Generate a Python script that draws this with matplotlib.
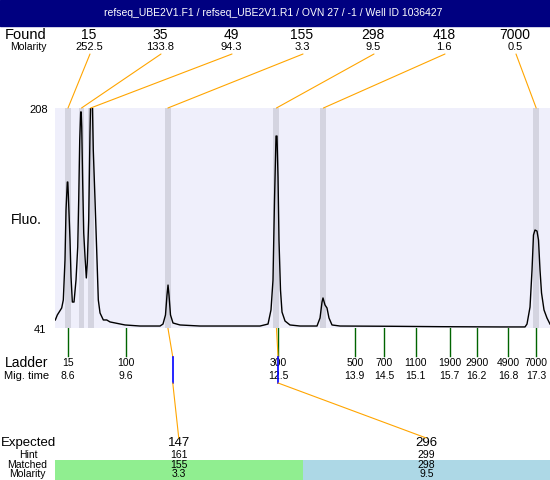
import matplotlib.pyplot as plt
from matplotlib.patches import Rectangle, ConnectionPatch
from matplotlib.transforms import blended_transform_factory

plt.rcParams['font.family'] = ['Liberation Sans', 'DejaVu Sans']

title = "refseq_UBE2V1.F1 / refseq_UBE2V1.R1 / OVN 27 / -1 / Well ID 1036427"

# electropherogram trace: migration time (min) vs fluorescence
trace_t = [8.365, 8.402, 8.483, 8.513, 8.544, 8.563, 8.587, 8.596, 8.606, 8.637,
           8.656, 8.68, 8.711, 8.748, 8.78, 8.798, 8.817, 8.835, 8.844, 8.854,
           8.872, 8.891, 8.915, 8.939, 8.957, 8.983, 9.007, 9.02, 9.035, 9.05,
           9.068, 9.1, 9.131, 9.161, 9.193, 9.254, 9.317, 9.378, 9.656, 9.933,
           10.304, 10.359, 10.405, 10.433, 10.452, 10.47, 10.498, 10.544, 10.674, 11.044,
           11.6, 12.156, 12.304, 12.359, 12.396, 12.424, 12.452, 12.47, 12.489, 12.507,
           12.535, 12.563, 12.619, 12.711, 12.896, 13.211, 13.267, 13.304, 13.322, 13.359,
           13.396, 13.433, 13.489, 13.637, 14.6, 15.5, 16.6, 17.063, 17.1, 17.156,
           17.193, 17.22, 17.248, 17.285, 17.313, 17.341, 17.369, 17.415, 17.47, 17.526]
trace_f = [47.1, 50.9, 56.2, 62.3, 92.6, 130.6, 151.8, 151.8, 142, 107.8,
           79.7, 60.7, 60.7, 77.4, 102.5, 138.2, 183.7, 205, 205, 193.6,
           151, 113.1, 94.9, 79, 90.3, 123, 189, 214, 218, 214,
           176.1, 138.2, 100.2, 62.3, 52.4, 47.1, 47.1, 45.6, 43.3, 42.5,
           42.5, 44, 50.9, 66, 73.6, 66, 50.9, 44.8, 43.3, 42.5,
           42.5, 42.5, 44, 54.7, 77.4, 138, 186.7, 186.7, 155.6, 107.8,
           69.8, 53.1, 46.3, 43.3, 42.5, 42.5, 48.6, 60.7, 63.8, 58.5,
           56.2, 48.6, 43.3, 42.5, 42.3, 42, 41.8, 41.8, 44, 56.9,
           85, 111.6, 115.4, 114.6, 107.8, 85, 67.6, 54.7, 48.6, 44]

found_size = [15, 35, 49, 155, 298, 418, 7000]
found_molarity = [252.5, 133.8, 94.3, 3.3, 9.5, 1.6, 0.5]
found_time = [8.60, 8.85, 9.02, 10.45, 12.46, 13.33, 17.27]

ladder_size = [15, 100, 300, 500, 700, 1100, 1900, 2900, 4900, 7000]
ladder_time = [8.6, 9.67, 12.49, 13.91, 14.45, 15.04, 15.67, 16.17, 16.75, 17.27]
ladder_time_lbl = ["8.6", "9.6", "12.5", "13.9", "14.5", "15.1", "15.7", "16.2", "16.8", "17.3"]

expected = [147, 296]
expected_time = [10.54, 12.49]
hint = [161, 299]
matched = [155, 298]
matched_molarity = [3.3, 9.5]
matched_found = [3, 4]
cell_colors = ['#90EE90', '#ADD8E6']

W, H = 550, 480
fig = plt.figure(figsize=(W / 100, H / 100), dpi=100)

# overlay in pixel coordinates for all the annotation rows
ov = fig.add_axes([0, 0, 1, 1])
ov.set_xlim(0, W)
ov.set_ylim(H, 0)
ov.axis('off')

ax = fig.add_axes([55 / W, 1 - 328 / H, 495 / W, 220 / H])
ax.set_xlim(8.359, 17.526)
ax.set_ylim(41, 208)
ax.set_facecolor('#EFEFFB')
for s in ax.spines.values():
    s.set_visible(False)
ax.set_xticks([])
ax.set_yticks([])

for t in found_time:
    ax.axvspan(t - 0.055, t + 0.055, color='#D4D4E0', lw=0)
ax.plot(trace_t, trace_f, color='black', lw=1.0)

bt = blended_transform_factory(ax.transData, ov.transData)

# title bar
ov.add_patch(Rectangle((0, 0), W, 26, color='#000080'))
ov.text(273, 13, title, color='white', ha='center', va='center', fontsize=7.5)

# found peaks
ov.text(5, 35, "Found", ha='left', va='center', fontsize=10.5)
ov.text(28, 47, "Molarity", ha='center', va='center', fontsize=7.5)
for i in range(len(found_size)):
    xl = 89 + 71 * i
    ov.text(xl, 35, str(found_size[i]), ha='center', va='center', fontsize=10)
    ov.text(xl, 47, str(found_molarity[i]), ha='center', va='center', fontsize=8)
    con = ConnectionPatch(xyA=(xl + 1, 54), coordsA=ov.transData,
                          xyB=(found_time[i], 208), coordsB=ax.transData,
                          color='orange', lw=0.8)
    fig.add_artist(con)

ov.text(48, 110, "208", ha='right', va='center', fontsize=8)
ov.text(46, 330, "41", ha='right', va='center', fontsize=8)
ov.text(26, 220, "Fluo.", ha='center', va='center', fontsize=10)

# ladder
ov.text(27, 363, "Ladder", ha='center', va='center', fontsize=10)
ov.text(27, 376, "Mig. time", ha='center', va='center', fontsize=8)
for t, s, lb in zip(ladder_time, ladder_size, ladder_time_lbl):
    ov.plot([t, t], [328, 356], transform=bt, color='#006400', lw=1)
    ov.text(t, 363, str(s), transform=bt, ha='center', va='center', fontsize=7.5)
    ov.text(t, 376, lb, transform=bt, ha='center', va='center', fontsize=7.5)

# expected / matched table
ov.text(1, 443, "Expected", ha='left', va='center', fontsize=9.5)
ov.text(28, 455, "Hint", ha='center', va='center', fontsize=7.5)
ov.text(27, 465, "Matched", ha='center', va='center', fontsize=7.5)
ov.text(27, 474, "Molarity", ha='center', va='center', fontsize=7.5)
cw = 495 / len(expected)
for k in range(len(expected)):
    x0 = 55 + k * cw
    xc = x0 + cw / 2
    ov.add_patch(Rectangle((x0, 460), cw, 20, color=cell_colors[k], lw=0))
    ov.text(xc, 443, str(expected[k]), ha='center', va='center', fontsize=9.5)
    ov.text(xc, 455, str(hint[k]), ha='center', va='center', fontsize=7.5)
    ov.text(xc, 465, str(matched[k]), ha='center', va='center', fontsize=7.5)
    ov.text(xc, 474, str(matched_molarity[k]), ha='center', va='center', fontsize=7.5)
    te = expected_time[k]
    tf = found_time[matched_found[k]]
    ov.plot([tf, te], [328, 357], transform=bt, color='orange', lw=0.8)
    ov.plot([te, te], [357, 383], transform=bt, color='blue', lw=1.2, zorder=5)
    con = ConnectionPatch(xyA=(te, 383), coordsA=bt,
                          xyB=(xc, 438), coordsB=ov.transData,
                          color='orange', lw=0.8)
    fig.add_artist(con)

fig.savefig("out.png", dpi=100)
